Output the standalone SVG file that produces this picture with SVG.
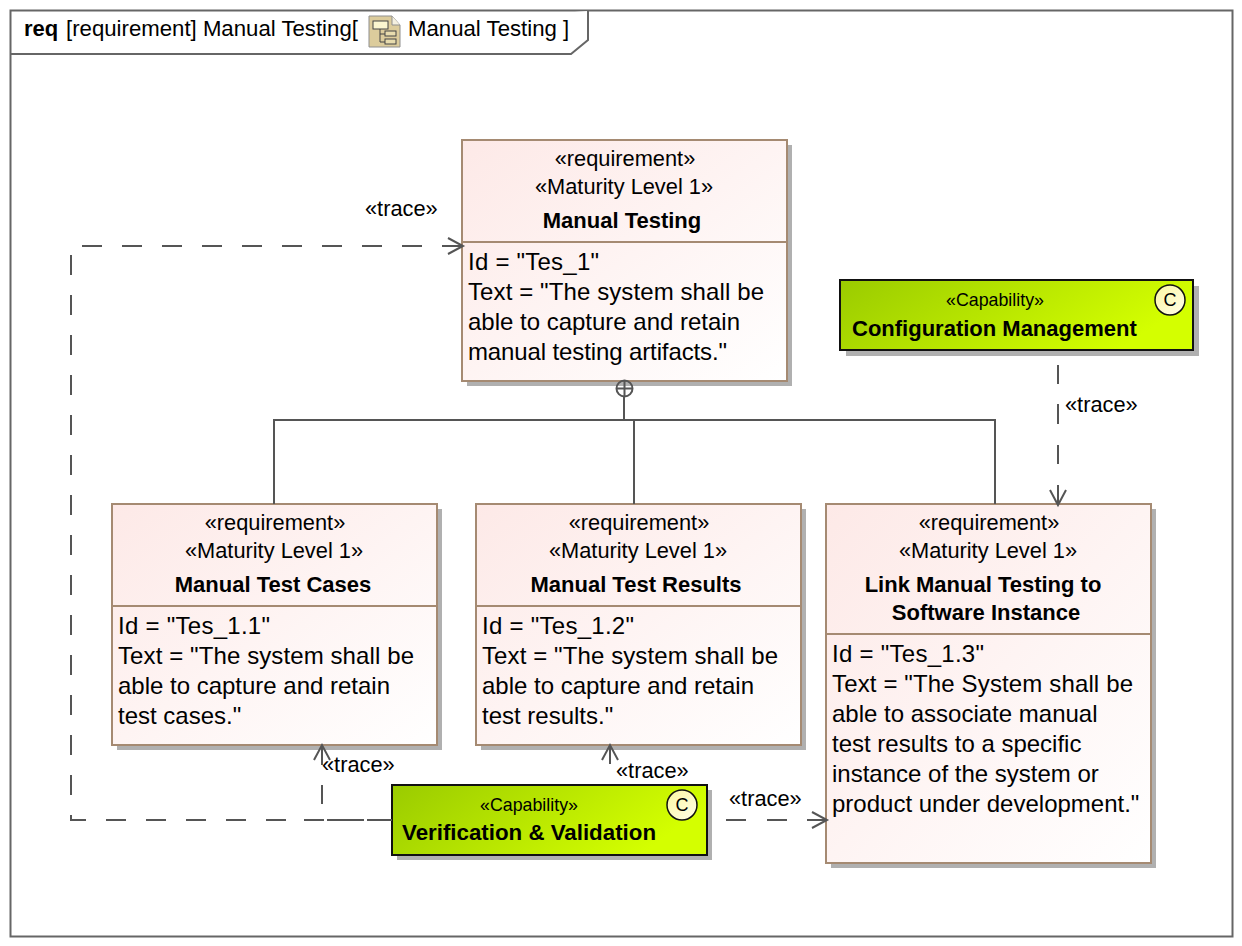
<svg xmlns="http://www.w3.org/2000/svg" width="1242" height="946" viewBox="0 0 1242 946">
<style>
text{font-family:"Liberation Sans",Arial,sans-serif;fill:#000}
.st{font-size:21.8px;text-anchor:middle}
.nm{font-size:22px;font-weight:bold;text-anchor:middle}
.bd{font-size:24px}
.tr{font-size:21.8px}
.box{fill:url(#req);stroke:#a58a72;stroke-width:2}
.sh{fill:#b0b0b0}
.div{stroke:#a58a72;stroke-width:2}
.cap{fill:url(#capg);stroke:#111;stroke-width:2}
.circ{fill:url(#cg);stroke:#111;stroke-width:1.5}
.ln{fill:none;stroke:#555;stroke-width:2}
.dash{fill:none;stroke:#555;stroke-width:2;stroke-dasharray:20 20}
</style>
<defs>
<linearGradient id="req" x1="0" y1="0" x2="1" y2="1"><stop offset="0" stop-color="#fde9e7"/><stop offset="1" stop-color="#ffffff"/></linearGradient>
<linearGradient id="capg" x1="0" y1="0" x2="1" y2="0.3"><stop offset="0" stop-color="#9acb00"/><stop offset="1" stop-color="#d4ff00"/></linearGradient>
<linearGradient id="cg" x1="0" y1="0" x2="1" y2="1"><stop offset="0" stop-color="#fbf7a0"/><stop offset="1" stop-color="#fffde8"/></linearGradient>
</defs>
<rect width="1242" height="946" fill="#fff"/>
<g id="frame">
<rect x="10.500" y="10.500" width="1222" height="926" fill="#fff" stroke="#666" stroke-width="2"/>
<path d="M11 54H571L588 40V11" fill="#fff" stroke="#666" stroke-width="2"/>
<text x="24" y="36" font-size="22" font-weight="bold">req</text>
<text x="66" y="36" font-size="22.200">[requirement] Manual Testing[</text>
<g id="frame-icon"><path d="M369 16H392L400 25V47H369Z" fill="#dccc9c" stroke="#8f8f8f"/><path d="M392 16V25H400" fill="#f4f0e0" stroke="#8f8f8f"/><rect x="373" y="21" width="15" height="8" fill="#fbf6cf" stroke="#444"/><path d="M380 29V42H385M380 34H385" fill="none" stroke="#444"/><rect x="385" y="31" width="11" height="5" fill="#e8dcae" stroke="#444"/><rect x="385" y="39" width="11" height="5" fill="#e8dcae" stroke="#444"/></g>
<text x="408" y="36" font-size="22.200">Manual Testing ]</text>
</g>
<g id="manual-testing">
<rect class="sh" x="467" y="145" width="325" height="241"/><rect class="box" x="462" y="140" width="325" height="241"/><path class="div" d="M462 242H787"/>
<text class="st" x="625" y="166">«requirement»</text><text class="st" x="624" y="194">«Maturity Level 1»</text><text class="nm" x="622" y="228">Manual Testing</text>
<text class="bd" x="468" y="270" textLength="131">Id = "Tes_1"</text><text class="bd" x="468" y="300" textLength="296">Text = "The system shall be</text><text class="bd" x="468" y="330" textLength="272">able to capture and retain</text><text class="bd" x="468" y="360" textLength="259">manual testing artifacts."</text>
</g>
<g id="manual-test-cases">
<rect class="sh" x="117" y="509" width="325" height="241"/><rect class="box" x="112" y="504" width="325" height="241"/><path class="div" d="M112 606H437"/>
<text class="st" x="275" y="530">«requirement»</text><text class="st" x="274" y="558">«Maturity Level 1»</text><text class="nm" x="273" y="592">Manual Test Cases</text>
<text class="bd" x="118" y="634" textLength="152">Id = "Tes_1.1"</text><text class="bd" x="118" y="664" textLength="296">Text = "The system shall be</text><text class="bd" x="118" y="694" textLength="272">able to capture and retain</text><text class="bd" x="118" y="724">test cases."</text>
</g>
<g id="manual-test-results">
<rect class="sh" x="481" y="509" width="325" height="241"/><rect class="box" x="476" y="504" width="325" height="241"/><path class="div" d="M476 606H801"/>
<text class="st" x="639" y="530">«requirement»</text><text class="st" x="638" y="558">«Maturity Level 1»</text><text class="nm" x="636" y="592">Manual Test Results</text>
<text class="bd" x="482" y="634" textLength="152">Id = "Tes_1.2"</text><text class="bd" x="482" y="664" textLength="296">Text = "The system shall be</text><text class="bd" x="482" y="694" textLength="272">able to capture and retain</text><text class="bd" x="482" y="724">test results."</text>
</g>
<g id="link-manual-testing">
<rect class="sh" x="831" y="509" width="325" height="359"/><rect class="box" x="826" y="504" width="325" height="359"/><path class="div" d="M826 634H1151"/>
<text class="st" x="989" y="530">«requirement»</text><text class="st" x="988" y="558">«Maturity Level 1»</text><text class="nm" x="983" y="592">Link Manual Testing to</text><text class="nm" x="986" y="620">Software Instance</text>
<text class="bd" x="832" y="662" textLength="152">Id = "Tes_1.3"</text><text class="bd" x="832" y="692" textLength="301">Text = "The System shall be</text><text class="bd" x="832" y="722">able to associate manual</text><text class="bd" x="832" y="752">test results to a specific</text><text class="bd" x="832" y="782">instance of the system or</text><text class="bd" x="832" y="812">product under development."</text>
</g>
<g id="configuration-management">
<rect class="sh" x="846" y="286" width="353" height="70"/><rect class="cap" x="840" y="280" width="353" height="70"/>
<text x="995" y="306" font-size="17.800" text-anchor="middle">«Capability»</text><text x="852" y="336" font-size="22" font-weight="bold">Configuration Management</text>
<circle class="circ" cx="1170" cy="300" r="15"/><text x="1170" y="306" font-size="18" text-anchor="middle">C</text>
</g>
<g id="verification-validation">
<rect class="sh" x="397" y="790" width="315" height="70"/><rect class="cap" x="392" y="785" width="315" height="70"/>
<text x="529" y="811" font-size="17.800" text-anchor="middle">«Capability»</text><text x="402" y="840" font-size="22.300" font-weight="bold">Verification &amp; Validation</text>
<circle class="circ" cx="682" cy="805" r="15"/><text x="682" y="811" font-size="18" text-anchor="middle">C</text>
</g>
<g id="connectors">
<path class="dash" d="M462 246H71V820H304"/>
<path class="ln" d="M448 238L463 246L448 254"/>
<path class="ln" d="M624 396V420M274 504V420H995V504M634 420V504"/>
<circle class="ln" cx="624.500" cy="388.500" r="8"/><path class="ln" d="M616.500 388.500H632.500M624.500 380.500V396.500"/>
<path class="ln" d="M1058 365V384M1058 404V424M1058 445V464M1058 485V505"/>
<path class="ln" d="M1050 490L1058 505L1066 490"/>
<path class="ln" d="M392 820H367M364 820H345M345 820H327M324 820H304M322 804V785M322 765V745"/>
<path class="ln" d="M314 760L322 745L330 760"/>
<path class="ln" d="M610 745V764M602 760L610 745L618 760"/>
<path class="ln" d="M726 820H746M767 820H787M807 820H827"/>
<path class="ln" d="M812 812L827 820L812 828"/>
</g>
<g id="labels">
<text class="tr" x="365" y="216">«trace»</text><text class="tr" x="1065" y="412">«trace»</text><text class="tr" x="322" y="772">«trace»</text><text class="tr" x="616" y="778">«trace»</text><text class="tr" x="729" y="806">«trace»</text>
</g>
</svg>
